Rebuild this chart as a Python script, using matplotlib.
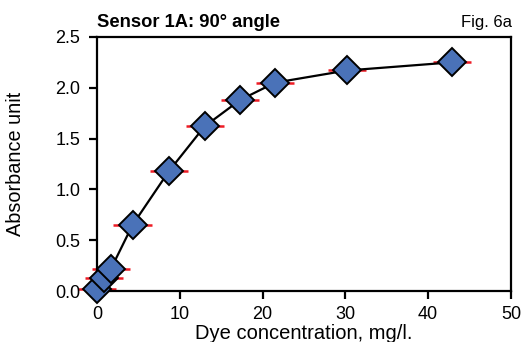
import matplotlib.pyplot as plt

plt.rcParams['font.family'] = ['Liberation Sans', 'DejaVu Sans']

# concentration (mg/l) and absorbance readings
conc = [0.0, 0.8, 1.7, 4.3, 8.7, 13.0, 17.3, 21.5, 30.2, 42.9]
absorb = [0.02, 0.13, 0.22, 0.65, 1.18, 1.62, 1.88, 2.05, 2.17, 2.25]
conc_err = [2.3] * len(conc)

xticks = [0, 10, 20, 30, 40, 50]
yticks = [0.0, 0.5, 1.0, 1.5, 2.0, 2.5]

fig = plt.figure(figsize=(5.24, 3.42), dpi=100)
ax = fig.add_axes([0.185, 0.149, 0.79, 0.743])

ax.plot(conc, absorb, color='black', lw=1.6, zorder=2)
ax.errorbar(conc, absorb, xerr=conc_err, fmt='none', ecolor='#ee1c25',
            elinewidth=1.8, capsize=0, zorder=1, clip_on=False)
ax.plot(conc, absorb, ls='none', marker='D', ms=14.5, mfc='#4a72b8',
        mec='black', mew=1.4, zorder=3, clip_on=False)

ax.set_xlim(0, 50)
ax.set_ylim(0, 2.5)
ax.set_xticks(xticks)
ax.set_yticks(yticks)
ax.set_yticklabels([f"{v:.1f}" for v in yticks])
for s in ax.spines.values():
    s.set_linewidth(1.6)
ax.tick_params(direction='out', length=6, width=1.6, labelsize=13)
ax.tick_params(axis='x', pad=5)
ax.tick_params(axis='y', pad=6)

ax.set_xlabel('Dye concentration, mg/l.', fontsize=14.5)
ax.set_ylabel('Absorbance unit', fontsize=14.3)
ax.xaxis.set_label_coords(0.5, -0.13)
ax.yaxis.set_label_coords(-0.174, 0.5)

fig.text(0.185, 0.935, 'Sensor 1A: 90° angle', fontsize=13.2, fontweight='bold',
         ha='left', va='center')
fig.text(0.977, 0.935, 'Fig. 6a', fontsize=12, fontstretch='condensed',
         family=['Liberation Sans Narrow', 'Liberation Sans'],
         ha='right', va='center')

fig.savefig('out.png', dpi=100)
